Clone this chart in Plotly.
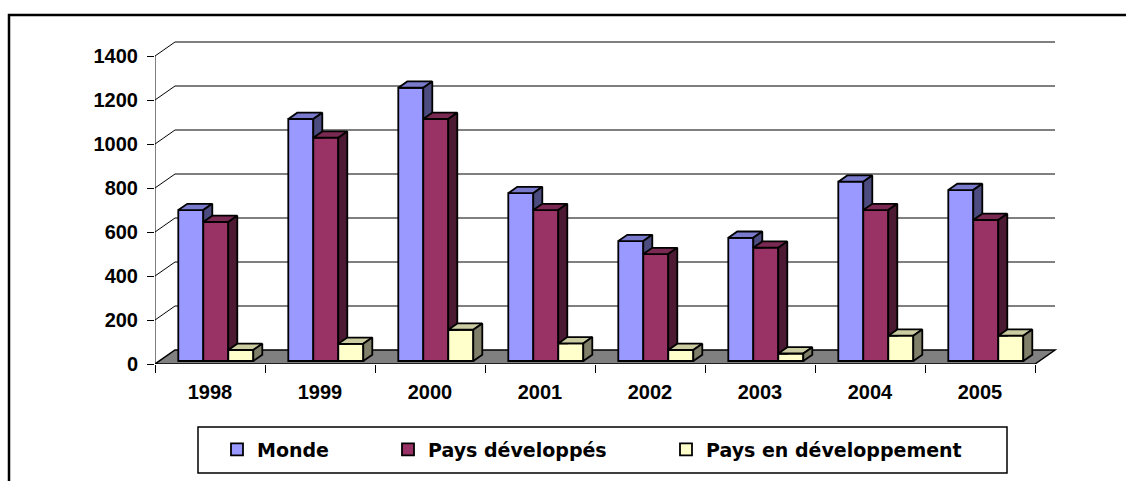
import plotly.graph_objects as go

# ---------------- data ----------------
years = ["1998", "1999", "2000", "2001", "2002", "2003", "2004", "2005"]
monde = [686, 1100, 1242, 763, 545, 560, 815, 777]
pays_developpes = [632, 1015, 1100, 686, 486, 515, 686, 641]
pays_en_developpement = [50, 78, 142, 80, 50, 34, 115, 115]
series_names = ["Monde", "Pays développés", "Pays en développement"]
y_ticks = [0, 200, 400, 600, 800, 1000, 1200, 1400]

# ---------------- geometry / style ----------------
W_FIG, H_FIG = 1126, 481
M_L, M_R, M_T, M_B = 155, 68, 40, 117
PX_X = 110.0          # pixels per category
PX_Y = 0.22           # pixels per value unit
plot_w = W_FIG - M_L - M_R
plot_h = H_FIG - M_T - M_B
XMIN = -0.5
XMAX = XMIN + plot_w / PX_X
YMAX = plot_h / PX_Y

DXU = 20 / PX_X       # floor depth (x)
DYU = 14 / PX_Y       # floor depth (y)
BX, BY = DXU * 3 / 14, DYU * 3 / 14          # bar front depth
DDX, DDY = DXU * 0.45, DYU * 0.45            # bar thickness
BW = 25 / PX_X                                 # bar width
OFF0 = -0.5 + 19 / PX_X                        # first bar offset in category

front = ["#9999FF", "#993366", "#FFFFCC"]
topc = ["#7A7ACC", "#7A2952", "#CCCCA3"]
sidec = ["#4C4C80", "#4D1A33", "#80806A"]

all_vals = [monde, pays_developpes, pays_en_developpement]
n = len(years)
xc = list(range(n))
OUT_W = 1.8

fig = go.Figure()

# front faces as real bar traces
for k, vals in enumerate(all_vals):
    fig.add_trace(go.Bar(
        x=[i + BX for i in xc], y=vals, base=BY,
        offset=OFF0 + k * BW, width=BW,
        marker=dict(color=front[k], line=dict(color="black", width=OUT_W)),
        name=series_names[k], legend=["legend", "legend2", "legend3"][k],
        hoverinfo="skip",
    ))

# top and side faces
for k, vals in enumerate(all_vals):
    tx, ty, sx, sy = [], [], [], []
    for i, v in enumerate(vals):
        xl = i + BX + OFF0 + k * BW
        xr = xl + BW
        b = BY
        t = BY + v
        tx += [xl, xr, xr + DDX, xl + DDX, xl, None]
        ty += [t, t, t + DDY, t + DDY, t, None]
        lower = b if k == len(all_vals) - 1 else BY + all_vals[k + 1][i]
        y0a = max(lower, b)
        y0b = max(lower, b + DDY)
        sx += [xr, xr, xr + DDX, xr + DDX, xr, None]
        sy += [y0a, t, t + DDY, y0b, y0a, None]
    fig.add_trace(go.Scatter(x=tx, y=ty, mode="lines", fill="toself",
                             fillcolor=topc[k], line=dict(color="black", width=OUT_W),
                             showlegend=False, hoverinfo="skip"))
    fig.add_trace(go.Scatter(x=sx, y=sy, mode="lines", fill="toself",
                             fillcolor=sidec[k], line=dict(color="black", width=OUT_W),
                             showlegend=False, hoverinfo="skip"))

shapes = []
# floor
x_end = XMIN + n
shapes.append(dict(type="path", xref="x", yref="y", layer="below",
                   path=f"M{XMIN},0 L{x_end},0 L{x_end + DXU},{DYU} L{XMIN + DXU},{DYU} Z",
                   fillcolor="#808080", line=dict(color="black", width=1.5)))
# back wall gridlines + side diagonals
for v in y_ticks[1:]:
    shapes.append(dict(type="line", xref="x", yref="y", layer="below",
                       x0=XMIN + DXU, y0=v + DYU, x1=x_end + DXU, y1=v + DYU,
                       line=dict(color="black", width=1)))
    shapes.append(dict(type="line", xref="x", yref="y", layer="below",
                       x0=XMIN, y0=v, x1=XMIN + DXU, y1=v + DYU,
                       line=dict(color="black", width=1)))
# front value axis line
shapes.append(dict(type="line", xref="x", yref="y", layer="below",
                   x0=XMIN, y0=0, x1=XMIN, y1=y_ticks[-1],
                   line=dict(color="black", width=1)))


def px_to_paper_x(px):
    return (px - M_L) / plot_w


def px_to_paper_y(py):
    return (H_FIG - M_B - py) / plot_h


# legend box
shapes.append(dict(type="rect", xref="paper", yref="paper",
                   x0=px_to_paper_x(198), x1=px_to_paper_x(1007),
                   y0=px_to_paper_y(473), y1=px_to_paper_y(427),
                   line=dict(color="black", width=1.5), fillcolor="rgba(0,0,0,0)"))
# outer chart frame
shapes.append(dict(type="rect", xref="paper", yref="paper",
                   x0=px_to_paper_x(9), x1=px_to_paper_x(1135),
                   y0=px_to_paper_y(495), y1=px_to_paper_y(15),
                   line=dict(color="black", width=2.5), fillcolor="rgba(0,0,0,0)"))

leg_font = dict(family="DejaVu Sans", size=19, color="black", weight="bold")
leg_y = px_to_paper_y(449.5)


def leg(px):
    return dict(x=px_to_paper_x(px), y=leg_y, xanchor="left", yanchor="middle",
                orientation="h", bgcolor="rgba(0,0,0,0)", borderwidth=0,
                font=leg_font)


tick_font = dict(family="Liberation Sans, Arial", size=20, color="black", weight="bold")

fig.update_layout(
    width=W_FIG, height=H_FIG,
    margin=dict(l=M_L, r=M_R, t=M_T, b=M_B, pad=0),
    paper_bgcolor="white", plot_bgcolor="white",
    barmode="overlay",
    shapes=shapes,
    legend=leg(217), legend2=leg(388), legend3=leg(666),
    xaxis=dict(range=[XMIN, XMAX], showgrid=False, zeroline=False, showline=False,
               tickmode="array", tickvals=xc, ticktext=years, ticks="",
               ticklabelstandoff=14, tickfont=tick_font,
               minor=dict(tickmode="array", tickvals=[XMIN + i for i in range(n + 1)],
                          ticks="outside", ticklen=8, tickcolor="black", tickwidth=1,
                          showgrid=False)),
    yaxis=dict(range=[0, YMAX], showgrid=False, zeroline=False, showline=False,
               tickmode="array", tickvals=y_ticks, ticks="outside", ticklen=7,
               tickcolor="black", tickwidth=1, ticklabelstandoff=5, tickfont=tick_font),
)

fig.write_html("out.html", config={"displayModeBar": False},
               post_script="document.body.style.margin='0px';document.body.style.overflow='hidden';")
